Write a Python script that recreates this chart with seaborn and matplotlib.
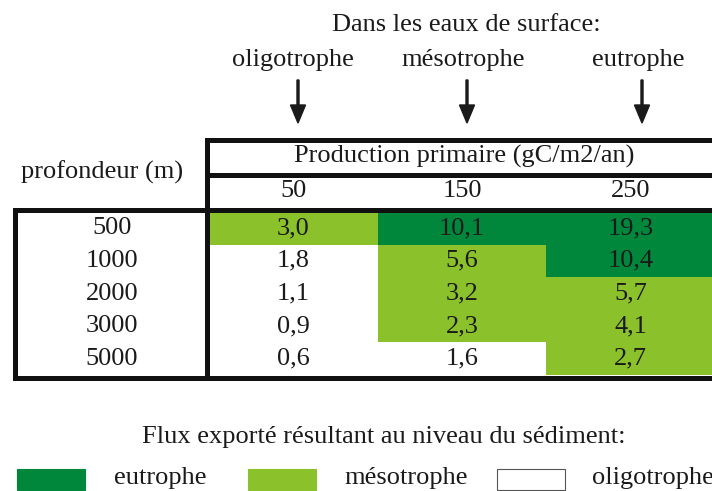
import numpy as np
import pandas as pd
import seaborn as sns
import matplotlib.pyplot as plt
from matplotlib.colors import ListedColormap
from matplotlib.patches import Rectangle
from matplotlib.transforms import blended_transform_factory

profondeurs = [500, 1000, 2000, 3000, 5000]
production = [50, 150, 250]
flux = [[3.0, 10.1, 19.3],
        [1.8, 5.6, 10.4],
        [1.1, 3.2, 5.7],
        [0.9, 2.3, 4.1],
        [0.6, 1.6, 2.7]]
# 0 = oligotrophe, 1 = mesotrophe, 2 = eutrophe
classe = [[1, 2, 2],
          [0, 1, 2],
          [0, 1, 1],
          [0, 1, 1],
          [0, 0, 1]]
surface_labels = ['oligotrophe', 'mésotrophe', 'eutrophe']
legend_labels = ['eutrophe', 'mésotrophe', 'oligotrophe']

sns.set_style('white')
plt.rcParams['font.family'] = ['Liberation Serif', 'DejaVu Serif']

dark = '#01873c'
light = '#8bc12b'
ink = '#1a1a1a'
fs = 19

W, H = 712, 491
fig = plt.figure(figsize=(W / 100, H / 100), dpi=100)

# heatmap of the data cells (pixels 209..715 x 212..375)
x0, x1, y0, y1 = 209, 715, 212, 375
ax_h = fig.add_axes([x0 / W, 1 - y1 / H, (x1 - x0) / W, (y1 - y0) / H])
df_cls = pd.DataFrame(classe, index=profondeurs, columns=production)
annot = np.array([[f'{v:.1f}'.replace('.', ',') for v in row] for row in flux])
sns.heatmap(df_cls, ax=ax_h, cmap=ListedColormap(['white', light, dark]),
            vmin=-0.5, vmax=2.5, cbar=False, annot=annot, fmt='',
            annot_kws={'fontsize': fs, 'color': ink}, linewidths=0)
ax_h.set_xticks([])
ax_h.set_yticks([])
ax_h.set_xlabel('')
ax_h.set_ylabel('')

# overlay in pixel coordinates for frame, headers, arrows, legend
ax = fig.add_axes([0, 0, 1, 1], zorder=5)
ax.set_xlim(0, W)
ax.set_ylim(H, 0)
ax.axis('off')
ax.patch.set_visible(False)

lw = 3.6
kw = dict(color='#111111', lw=lw, solid_capstyle='projecting')
ax.plot([206.5, W + 5], [139.5, 139.5], **kw)
ax.plot([206.5, W + 5], [174.5, 174.5], **kw)
ax.plot([14.5, W + 5], [209.5, 209.5], **kw)
ax.plot([14.5, W + 5], [377.5, 377.5], **kw)
ax.plot([14.5, 14.5], [209.5, 377.5], **kw)
ax.plot([206.5, 206.5], [139.5, 377.5], **kw)

# row labels (y from heatmap rows)
tr_rows = blended_transform_factory(ax.transData, ax_h.transData)
for i, p in enumerate(profondeurs):
    ax.text(112, i + 0.5, str(p), transform=tr_rows, ha='center', va='center',
            fontsize=fs, color=ink)

# column labels (x from heatmap columns)
tr_cols = blended_transform_factory(ax_h.transData, ax.transData)
for j, p in enumerate(production):
    ax.text(j + 0.5, 191, str(p), transform=tr_cols, ha='center', va='center',
            fontsize=fs, color=ink)

ax.text(464, 156, 'Production primaire (gC/m2/an)', ha='center', va='center',
        fontsize=fs, color=ink)
ax.text(102, 172, 'profondeur (m)', ha='center', va='center', fontsize=fs, color=ink)

# surface header and arrows
ax.text(466, 25, 'Dans les eaux de surface:', ha='center', va='center',
        fontsize=fs, color=ink)
for lab, xt, xa in zip(surface_labels, [293, 463, 638], [298, 467, 642]):
    ax.text(xt, 60, lab, ha='center', va='center', fontsize=fs, color=ink)
    ax.arrow(xa, 80, 0, 43, width=2, head_width=15, head_length=18,
             length_includes_head=True, color=ink)

# legend
ax.text(384, 437, 'Flux exporté résultant au niveau du sédiment:', ha='center',
        va='center', fontsize=fs, color=ink)
patch_x = [17, 248, 497]
text_x = [114, 344, 592]
faces = [dark, light, 'white']
edges = [dark, light, '#555555']
for lab, px, tx, fc, ec in zip(legend_labels, patch_x, text_x, faces, edges):
    ax.add_patch(Rectangle((px, 469), 68, 21, facecolor=fc, edgecolor=ec, lw=0.8))
    ax.text(tx, 478, lab, ha='left', va='center', fontsize=fs, color=ink)

fig.savefig('out.png', dpi=100)
